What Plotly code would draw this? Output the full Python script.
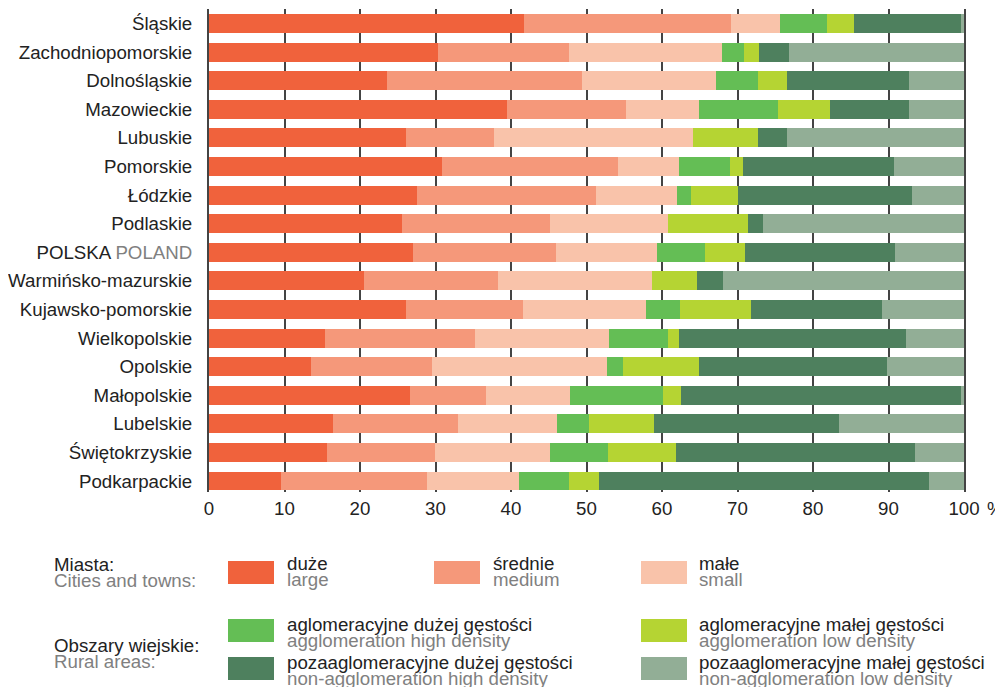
import plotly.graph_objects as go

# regions, top to bottom as in the chart
regions = ["Śląskie", "Zachodniopomorskie", "Dolnośląskie", "Mazowieckie", "Lubuskie",
           "Pomorskie", "Łódzkie", "Podlaskie", "POLSKA", "Warmińsko-mazurskie",
           "Kujawsko-pomorskie", "Wielkopolskie", "Opolskie", "Małopolskie",
           "Lubelskie", "Świętokrzyskie", "Podkarpackie"]
region_labels = [r if r != "POLSKA" else "POLSKA <span style='color:#808080'>POLAND</span>"
                 for r in regions]

# shares of population, %
duze = [41.7, 30.3, 23.6, 39.5, 26.1, 30.8, 27.5, 25.6, 27.0, 20.5, 26.1, 15.4, 13.5, 26.6, 16.4, 15.6, 9.5]
srednie = [27.5, 17.4, 25.8, 15.7, 11.6, 23.4, 23.7, 19.5, 18.9, 17.8, 15.5, 19.8, 16.0, 10.1, 16.6, 14.3, 19.4]
male = [6.4, 20.2, 17.7, 9.7, 26.4, 8.0, 10.8, 15.7, 13.5, 20.4, 16.3, 17.8, 23.2, 11.1, 13.1, 15.2, 12.1]
aglo_duza = [6.2, 2.9, 5.6, 10.4, 0.0, 6.8, 1.8, 0.0, 6.3, 0.0, 4.5, 7.8, 2.1, 12.3, 4.2, 7.7, 6.7]
aglo_mala = [3.6, 2.0, 3.8, 6.9, 8.6, 1.7, 6.2, 10.6, 5.3, 6.0, 9.4, 1.4, 10.1, 2.4, 8.6, 9.0, 3.9]
poza_duza = [14.2, 4.0, 16.2, 10.5, 3.8, 20.0, 23.1, 2.0, 19.8, 3.4, 17.4, 30.1, 24.9, 37.1, 24.5, 31.7, 43.7]
poza_mala = [0.4, 23.2, 7.3, 7.3, 23.5, 9.3, 6.9, 26.6, 9.2, 31.9, 10.8, 7.7, 10.2, 0.4, 16.6, 6.5, 4.7]

series = [duze, srednie, male, aglo_duza, aglo_mala, poza_duza, poza_mala]
names_pl = ["duże", "średnie", "małe", "aglomeracyjne dużej gęstości", "aglomeracyjne małej gęstości",
            "pozaaglomeracyjne dużej gęstości", "pozaaglomeracyjne małej gęstości"]
names_en = ["large", "medium", "small", "agglomeration high density", "agglomeration low density",
            "non-agglomeration high density", "non-agglomeration low density"]
colors = ["#F0623C", "#F5987A", "#F9C3AA", "#64BE55", "#B5D433", "#4E805E", "#92AE96"]

FONT = "Liberation Sans, Arial, sans-serif"
FS = 18.7
DARK = "#222222"
GREY = "#808080"

# page offset of the figure (body margin) and plot area in page pixels
OFF = 8
L, R, T, B = 209, 964, 9, 492
W, H = 1003 - OFF, 687 - OFF


def px(x):
    return (x - L) / (R - L)


def py(y):
    return (B - y) / (B - T)


fig = go.Figure()
for vals, name, color in zip(series, names_pl, colors):
    fig.add_trace(go.Bar(y=regions, x=vals, orientation="h", name=name,
                         marker=dict(color=color, line=dict(width=0))))

fig.update_layout(
    barmode="stack", bargap=0.336, showlegend=False,
    width=W, height=H, plot_bgcolor="white", paper_bgcolor="white",
    margin=dict(l=L - OFF, r=W - (R - OFF), t=T - OFF, b=H - (B - OFF)),
    font=dict(family=FONT, size=FS, color=DARK),
)
fig.update_xaxes(range=[0, 100], tickvals=list(range(0, 101, 10)),
                 ticktext=[str(v) for v in range(0, 101, 10)],
                 showgrid=True, gridcolor="#444444", gridwidth=1.5,
                 zeroline=False, showline=False, ticks="", ticklabelstandoff=3,
                 tickfont=dict(size=FS, color=DARK))
fig.update_yaxes(type="category", categoryarray=regions, tickvals=regions, ticktext=region_labels,
                 range=[16.385, -0.507], showgrid=False, zeroline=False,
                 showline=True, mirror=True, linecolor="#444444", linewidth=2,
                 ticks="", ticklabelstandoff=11, tickfont=dict(size=FS, color=DARK))

# "%" after the last tick
fig.add_annotation(x=px(985), y=py(508.5), xref="paper", yref="paper", text="%",
                   showarrow=False, xanchor="left", yanchor="middle",
                   font=dict(size=FS, color=DARK))


def label(x, y, text, color):
    fig.add_annotation(x=px(x), y=py(y), xref="paper", yref="paper", text=text,
                       showarrow=False, xanchor="left", yanchor="middle",
                       font=dict(family=FONT, size=FS, color=color))


def swatch(x0, y0, color):
    fig.add_shape(type="rect", xref="paper", yref="paper",
                  x0=px(x0), x1=px(x0 + 46), y0=py(y0), y1=py(y0 + 23),
                  fillcolor=color, line=dict(width=0))


# group headings
label(52, 564, "Miasta:", DARK)
label(52, 580, "Cities and towns:", GREY)
label(52, 645, "Obszary wiejskie:", DARK)
label(52, 661, "Rural areas:", GREY)

# legend entries: (swatch x, swatch top, text x, first line y)
slots = [(228, 561, 285, 563), (434, 561, 491, 563), (641, 561, 697, 563),
         (228, 619, 285, 624), (641, 619, 697, 624),
         (228, 657, 285, 662), (641, 657, 697, 662)]
for (sx, sy, tx, ty), npl, nen, c in zip(slots, names_pl, names_en, colors):
    swatch(sx, sy, c)
    label(tx, ty, npl, DARK)
    label(tx, ty + 16, nen, GREY)

fig.write_html("out.html")
